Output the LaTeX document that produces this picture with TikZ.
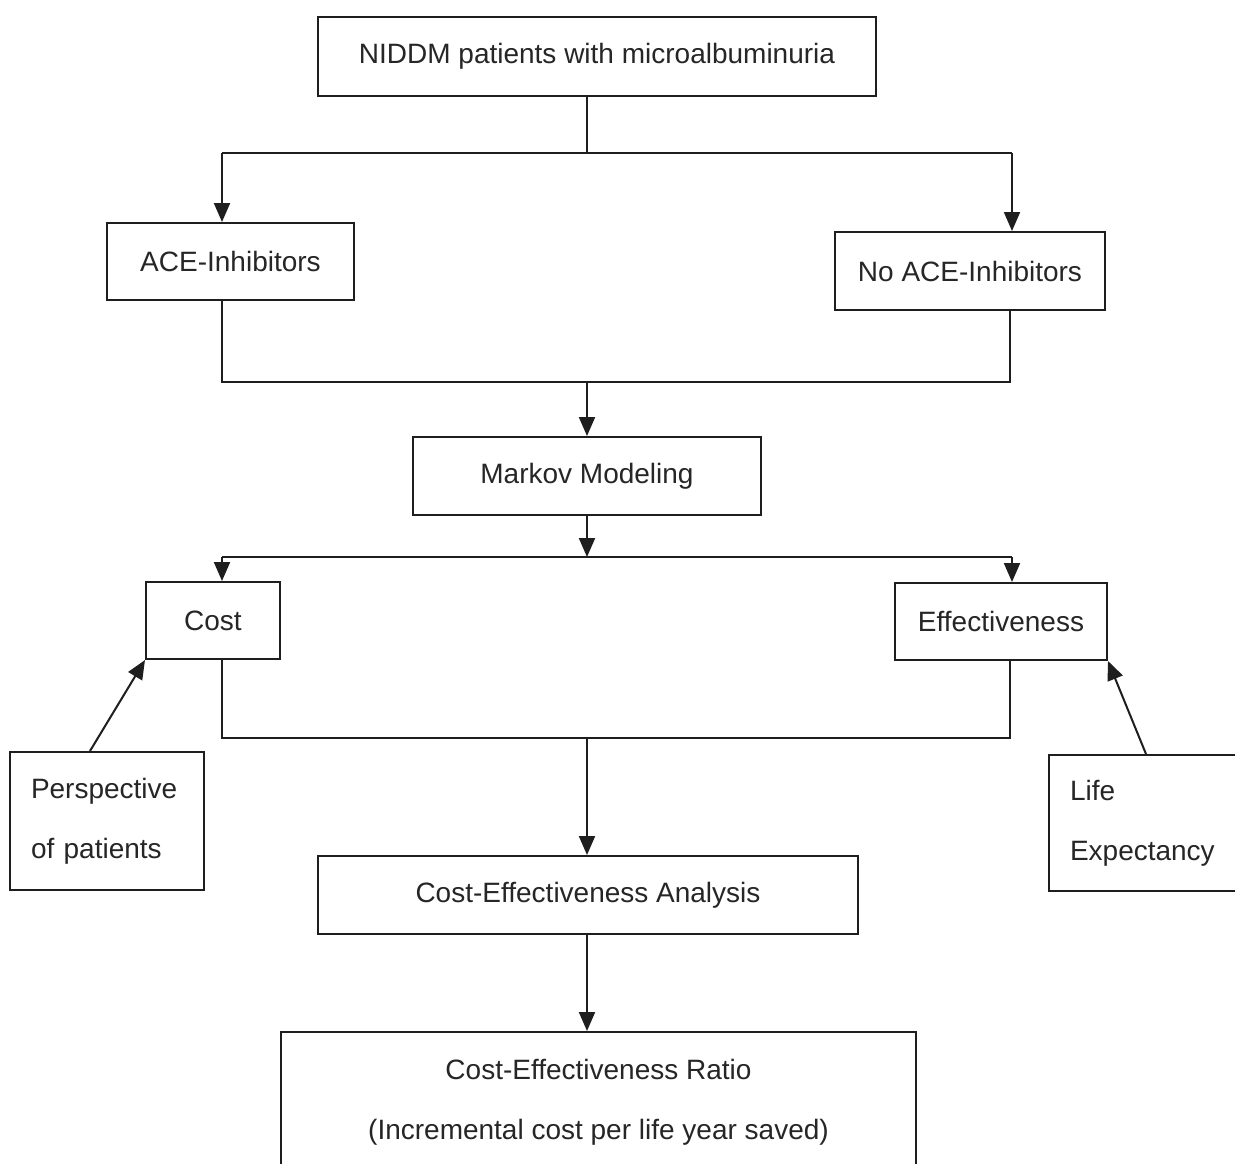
\documentclass[tikz,border=0pt]{standalone}
\usepackage{fontspec}
\setmainfont{Liberation Sans}
\usetikzlibrary{arrows.meta}
\definecolor{ink}{HTML}{1E1E1E}
\definecolor{txt}{HTML}{262626}
\tikzset{
  box/.style={draw=ink, line width=2pt, fill=white, text=txt, inner sep=0pt,
    font={\fontsize{28}{60}\selectfont}},
  tbox/.style={box, align=left, inner xsep=21pt},
  ln/.style={draw=ink, line width=2pt},
  arr/.style={ln, -{Triangle[length=19pt,width=16pt]}}
}
\begin{document}
\begin{tikzpicture}[x=1pt,y=-1pt]
\path[use as bounding box, clip] (0,0) rectangle (1235,1164);
\fill[white] (0,0) rectangle (1235,1164);
% nodes
\node[box, minimum width=558pt, minimum height=79pt] (top) at (597,56.5) {NIDDM patients with microalbuminuria};
\node[box, minimum width=247pt, minimum height=77pt] (ace) at (230.5,261.5) {ACE-Inhibitors};
\node[box, minimum width=270pt, minimum height=78pt] (noace) at (970,271) {No ACE-Inhibitors};
\node[box, minimum width=348pt, minimum height=78pt] (markov) at (587,476) {Markov Modeling};
\node[box, minimum width=134pt, minimum height=77pt] (cost) at (213,620.5) {Cost};
\node[box, minimum width=212pt, minimum height=77pt] (eff) at (1001,621.5) {Effectiveness};
\node[tbox, minimum width=194pt, minimum height=138pt, text width=152pt] (persp) at (107,821) {Perspective\\of patients};
\node[tbox, minimum width=196pt, minimum height=136pt, text width=154pt] (life) at (1147,823) {Life\\Expectancy};
\node[box, minimum width=540pt, minimum height=78pt] (cea) at (588,895) {Cost-Effectiveness Analysis};
\node[box, align=center, minimum width=635pt, minimum height=141pt] (ratio) at (598.5,1102.5) {Cost-Effectiveness Ratio\\(Incremental cost per life year saved)};
% junction coordinates
\coordinate (j1) at (587,153);
\coordinate (j1L) at (222,153);
\coordinate (j1R) at (1012,153);
\coordinate (m2L) at (222,382);
\coordinate (m2R) at (1010,382);
\coordinate (j2) at (587,382);
\coordinate (j3) at (587,557);
\coordinate (j3L) at (222,557);
\coordinate (j3R) at (1012,557);
\coordinate (m4L) at (222,738);
\coordinate (m4R) at (1010,738);
\coordinate (j4) at (587,738);
\coordinate (pL) at (90,0);
\coordinate (pR) at (1146,0);
% connectors
\draw[ln] (top.south -| j1) -- (j1);
\draw[ln] (j1L) -- (j1R);
\draw[arr] (j1L) -- (j1L |- ace.north);
\draw[arr] (j1R) -- (j1R |- noace.north);
\draw[ln] (ace.south -| m2L) -- (m2L) -- (m2R) -- (noace.south -| m2R);
\draw[arr] (j2) -- (j2 |- markov.north);
\draw[arr] (markov.south -| j3) -- (j3);
\draw[ln] (j3L) -- (j3R);
\draw[arr] (j3L) -- (j3L |- cost.north);
\draw[arr] (j3R) -- (j3R |- eff.north);
\draw[ln] (cost.south -| m4L) -- (m4L) -- (m4R) -- (eff.south -| m4R);
\draw[arr] (j4) -- (j4 |- cea.north);
\draw[arr] (persp.north -| pL) -- (cost.south west);
\draw[arr] (life.north -| pR) -- (eff.south east);
\draw[arr] (cea.south -| j4) -- (j4 |- ratio.north);
\end{tikzpicture}
\end{document}
